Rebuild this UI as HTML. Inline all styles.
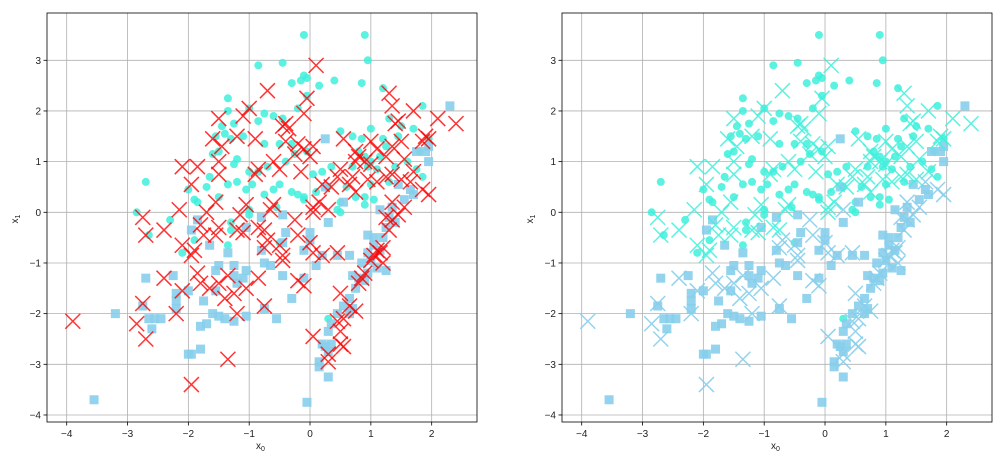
<!DOCTYPE html>
<html><head><meta charset="utf-8">
<style>
html,body{margin:0;padding:0;background:#fff;}
svg{display:block;font-family:"Liberation Sans","DejaVu Sans",sans-serif;}
</style></head>
<body>
<svg id="chart" width="1000" height="456" viewBox="0 0 1000 456"></svg>
<script>
const classCircle = [[-0.1,3.5],[0.9,3.5],[0.95,3.0],[-0.85,2.9],[-0.45,2.95],[-0.1,2.7],[-0.15,2.6],[-0.05,2.65],[0.4,2.6],[0.85,2.55],[0.15,2.5],[-0.3,2.55],[1.2,2.45],[-1.35,2.25],[-1.35,2.0],[-0.75,1.95],[-0.45,1.85],[-0.2,2.05],[-0.05,2.3],[-1.45,1.7],[-1.25,1.75],[-1.0,2.05],[-0.85,1.8],[-0.6,1.9],[-1.4,1.55],[-1.3,1.45],[-1.55,1.5],[-1.1,1.5],[-0.75,1.35],[-0.5,1.35],[-0.3,1.35],[-1.5,1.2],[-1.6,1.15],[-1.2,1.05],[-1.25,0.95],[-1.0,0.8],[-0.85,0.8],[-0.7,0.9],[-0.4,1.0],[-0.05,1.2],[0.5,1.6],[0.7,1.5],[0.85,1.45],[1.0,1.65],[1.2,1.45],[1.3,1.85],[1.45,1.5],[1.7,1.65],[1.85,2.1],[1.95,1.45],[1.8,1.2],[1.85,0.7],[1.6,1.0],[1.4,0.9],[1.3,0.6],[1.1,0.85],[1.0,0.55],[0.9,0.3],[1.05,0.25],[0.9,0.15],[0.75,0.3],[0.5,0.2],[0.45,0.05],[0.6,0.5],[0.35,0.9],[0.2,0.8],[0.05,0.75],[0.1,0.4],[-0.1,0.3],[-0.2,0.35],[-0.3,0.4],[-0.1,0.25],[-0.5,0.55],[-0.6,0.45],[-0.75,0.35],[-0.95,0.55],[-1.05,0.45],[-1.2,0.6],[-1.35,0.55],[-1.5,0.3],[-1.7,0.5],[-1.65,0.7],[-1.9,0.25],[-1.85,0.2],[-2.0,0.45],[-2.7,0.6],[-2.85,0.0],[-2.3,-0.15],[-2.65,-0.45],[-2.1,-0.8],[-1.9,-0.55],[-1.3,-0.35],[-1.35,-0.65],[-1.3,-0.2],[-1.0,-0.05],[-1.0,0.05],[-0.5,-0.6],[0.5,0.0],[0.3,0.5],[-0.55,0.1],[-0.25,1.15],[1.15,1.1],[1.5,1.7],[1.75,0.85],[0.8,1.2],[0.9,1.1],[1.0,1.0],[0.7,0.9],[1.25,1.3],[0.95,0.9],[0.3,-2.1]];
const classSquare = [[2.3,2.1],[1.95,1.3],[1.95,1.0],[1.9,1.2],[1.75,1.2],[1.7,0.35],[1.65,0.45],[1.55,0.25],[1.45,0.55],[1.35,0.1],[1.3,-0.1],[1.25,-0.3],[1.15,0.05],[1.2,-0.5],[1.05,-0.65],[0.95,-0.45],[0.95,-0.8],[1.0,-0.95],[1.1,-1.1],[0.95,-1.2],[0.9,-1.35],[0.8,-1.3],[0.7,-1.25],[0.75,-1.5],[0.65,-1.7],[0.65,-2.0],[0.7,-1.9],[0.55,-1.85],[0.45,-2.0],[0.35,-2.2],[0.3,-2.35],[0.35,-2.6],[0.25,-2.65],[0.2,-2.6],[0.3,-2.75],[0.15,-2.95],[0.15,-3.05],[0.3,-3.25],[-0.05,-3.75],[0.25,1.45],[0.3,-0.2],[0.0,-0.4],[0.0,-0.55],[-0.1,-0.75],[-0.1,-1.3],[0.1,-1.05],[0.2,-0.85],[0.45,-0.85],[0.65,-0.85],[-0.45,-0.05],[-0.45,-0.6],[-0.4,-0.4],[-0.45,-1.25],[-0.3,-1.7],[-0.55,-2.1],[-0.75,-1.0],[-0.8,-0.75],[-0.65,-1.05],[-1.05,-1.15],[-1.1,-1.3],[-1.25,-1.25],[-1.2,-1.4],[-1.25,-1.05],[-1.5,-1.05],[-1.55,-1.15],[-1.65,-0.65],[-1.35,-0.8],[-1.85,-0.15],[-1.95,-0.35],[-1.05,-0.3],[-0.75,-1.9],[-1.05,-2.05],[-1.25,-2.15],[-1.4,-2.1],[-1.5,-2.05],[-1.6,-2.0],[-1.7,-2.2],[-1.8,-2.25],[-1.8,-2.7],[-1.95,-2.8],[-2.0,-2.8],[-2.0,-1.55],[-2.2,-1.6],[-2.2,-1.75],[-2.25,-1.25],[-2.7,-1.3],[-2.65,-2.1],[-2.55,-2.1],[-2.45,-2.1],[-2.6,-2.3],[-3.2,-2.0],[-3.55,-3.7],[-2.2,-1.9],[-1.75,-1.75],[-2.75,-1.85],[-1.55,-1.55],[-0.8,-0.1],[0.55,0.2],[0.25,0.5],[1.15,-0.75],[1.05,-0.5],[1.25,-1.15],[0.85,-1.0],[1.4,-0.2]];
const testPredCyan = [[0.1,2.9],[-0.7,2.4],[-0.05,2.25],[-1.0,2.05],[-1.1,1.9],[-0.1,1.95],[1.3,2.35],[1.35,2.1],[1.7,2.0],[2.1,1.85],[2.4,1.75],[1.45,1.8],[1.4,1.75],[-1.5,1.85],[-1.6,1.45],[-1.45,1.3],[-1.2,1.5],[-0.9,1.45],[-0.45,1.7],[-0.35,1.65],[-0.4,1.75],[-0.4,1.4],[-0.2,1.35],[-0.1,1.25],[0.05,1.3],[0.0,1.1],[-0.25,1.15],[0.55,1.45],[0.75,1.2],[0.8,1.1],[0.75,1.0],[0.9,1.0],[1.0,1.4],[1.1,1.25],[1.25,1.1],[1.35,1.3],[1.5,1.4],[1.9,1.5],[1.95,1.45],[1.85,1.4],[1.55,1.05],[1.5,0.65],[1.7,0.8],[1.25,0.7],[1.35,0.75],[1.1,0.6],[1.0,0.95],[0.95,0.65],[0.7,0.7],[0.65,0.55],[0.75,0.4],[0.5,0.85],[0.45,0.7],[0.35,0.5],[0.2,0.55],[0.15,0.2],[0.05,0.0],[-0.15,0.8],[-0.5,0.85],[-0.6,1.0],[-0.85,0.85],[-0.9,0.75],[-1.5,1.0],[-1.5,0.75],[-2.1,0.9],[-1.85,0.9],[-1.95,0.55],[-1.55,0.2],[-1.7,0.0],[-2.15,0.05],[-2.75,-0.1],[-2.7,-0.45],[-2.4,-0.35],[-2.1,-0.65],[-1.9,-0.75],[-1.95,-0.85],[-1.8,-0.25],[-1.75,-0.45],[-1.5,-0.3],[-1.55,-0.45],[-1.2,-0.35],[-1.1,-0.4],[-1.15,-0.05],[-1.05,0.15],[-0.75,-0.35],[-0.6,0.15],[-0.65,0.05],[0.05,0.1],[-0.85,-0.3]];
const testPredBlue = [[1.65,0.6],[1.85,0.45],[1.95,0.35],[0.3,0.05],[-0.7,-0.55],[-0.75,-0.7],[-0.45,-0.85],[-0.45,-0.95],[-0.25,-0.15],[-0.2,-0.45],[0.0,-0.6],[0.05,-0.8],[0.2,-0.85],[0.45,-0.8],[1.1,-0.75],[1.15,-0.8],[1.05,-0.85],[1.2,-0.7],[1.0,-0.95],[1.2,-1.0],[0.9,-1.2],[0.85,-1.3],[0.8,-1.4],[1.3,-0.35],[1.35,-0.15],[1.25,-0.1],[1.45,-0.05],[1.55,0.1],[1.35,0.2],[0.5,-1.6],[0.65,-1.85],[0.75,-1.95],[0.55,-2.1],[0.45,-2.15],[0.5,-2.35],[0.5,-2.6],[0.55,-2.65],[0.3,-2.8],[0.3,-2.95],[0.05,-2.45],[-1.35,-2.9],[-1.95,-3.4],[-3.9,-2.15],[-2.85,-2.2],[-2.7,-2.5],[-2.75,-1.8],[-2.4,-1.3],[-2.2,-2.0],[-2.1,-1.55],[-1.85,-1.2],[-1.8,-1.4],[-1.65,-1.5],[-1.5,-1.4],[-1.35,-1.25],[-1.4,-1.7],[-1.25,-1.6],[-1.05,-1.5],[-1.2,-2.0],[-0.85,-1.3],[-0.75,-1.85],[-0.2,-1.35],[-0.1,-1.45],[-0.5,-0.65]];
const xTicks = [-4,-3,-2,-1,0,1,2];
const yTicks = [-4,-3,-2,-1,0,1,2,3];
const xTickLabels = ["\u22124","\u22123","\u22122","\u22121","0","1","2"];
const yTickLabels = ["\u22124","\u22123","\u22122","\u22121","0","1","2","3"];

const NS = "http://www.w3.org/2000/svg";
const svg = document.getElementById('chart');
function mk(tag, attrs, parent){ const e=document.createElementNS(NS,tag); for(const k in attrs) e.setAttribute(k,attrs[k]); (parent||svg).appendChild(e); return e; }

function panel(off, colored, name){
  const L=47+off, R=477+off, T=13, B=422;
  const sx = v => 66.7+off + (v+4)*60.83;
  const sy = v => 212.3 - v*50.67;
  const g = mk('g',{});
  
  
  const grid = mk('g',{},g);
  
  
  xTicks.forEach((t,i)=>{
    const x=sx(t);
    mk('line',{x1:x,x2:x,y1:T,y2:B,stroke:'#b0b0b0','stroke-width':0.8},grid);
    mk('line',{x1:x,x2:x,y1:B,y2:B+3.5,stroke:'#000','stroke-width':0.8},g);
    const tx=mk('text',{x:x,y:B+15,'font-size':10,'text-anchor':'middle',fill:'#222'},g);
    tx.textContent=xTickLabels[i];
    
    
  });
  yTicks.forEach((t,i)=>{
    const y=sy(t);
    mk('line',{x1:L,x2:R,y1:y,y2:y,stroke:'#b0b0b0','stroke-width':0.8},grid);
    mk('line',{x1:L-3.5,x2:L,y1:y,y2:y,stroke:'#000','stroke-width':0.8},g);
    const tx=mk('text',{x:L-6,y:y+3.5,'font-size':10,'text-anchor':'end',fill:'#222'},g);
    tx.textContent=yTickLabels[i];
    
    
  });
  const marks = mk('g',{},g);
  
  
  classCircle.forEach(p=>{
    const c=mk('circle',{cx:sx(p[0]),cy:sy(p[1]),r:4,fill:'#40f0dc','fill-opacity':0.85},marks);
    
    
  });
  classSquare.forEach(p=>{
    const r=mk('rect',{x:sx(p[0])-4.5,y:sy(p[1])-4.5,width:9,height:9,fill:'#87ceeb','fill-opacity':0.9},marks);
    
    
  });
  function cross(p,col,op){
    const x=sx(p[0]), y=sy(p[1]), h=7.5;
    const e=mk('path',{d:`M${x-h},${y-h}L${x+h},${y+h}M${x-h},${y+h}L${x+h},${y-h}`,stroke:col,'stroke-width':1.5,'stroke-opacity':op,fill:'none'},marks);
    
    
  }
  testPredCyan.forEach(p=>cross(p, colored?'#40f0dc':'#ff0000', colored?0.85:0.8));
  testPredBlue.forEach(p=>cross(p, colored?'#87ceeb':'#ff0000', colored?0.9:0.8));
  const fr=mk('rect',{x:L,y:T,width:R-L,height:B-T,fill:'none',stroke:'#000','stroke-width':0.8},g);
  
  
  const xl=mk('text',{x:(L+R)/2-6,y:B+27,'font-size':10,fill:'#222'},g);
  xl.innerHTML='x<tspan font-size="7" dy="2">0</tspan>';
  
  
  const yl=mk('text',{x:0,y:0,'font-size':10,fill:'#222',transform:`translate(${L-29},${(T+B)/2+6}) rotate(-90)`},g);
  yl.innerHTML='x<tspan font-size="7" dy="2">1</tspan>';
  
  
}
panel(0,false,'left-panel-test-points');
panel(515,true,'right-panel-predictions');
</script>
</body></html>
